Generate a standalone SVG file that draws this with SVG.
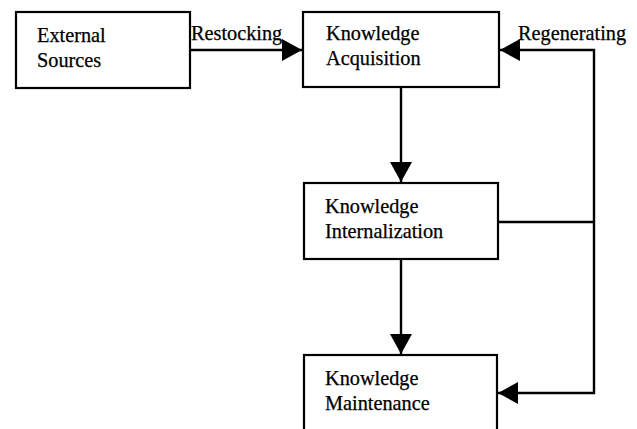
<svg xmlns="http://www.w3.org/2000/svg" width="637" height="429" viewBox="0 0 637 429">
<style>
.box{fill:#fff;stroke:#000;stroke-width:2.2}
.t{font-family:"Liberation Serif","Times New Roman",serif;font-size:20.3px;fill:#000;stroke:#000;stroke-width:0.25}
.c{fill:none;stroke:#000;stroke-width:2.4}
</style>
<defs>
<marker id="ah" markerUnits="userSpaceOnUse" markerWidth="20" markerHeight="22" viewBox="0 0 20 22" refX="20" refY="11" orient="auto">
<path d="M0,0 L20,11 L0,22 Z" fill="#000"/>
</marker>
</defs>
<rect width="637" height="429" fill="#fff"/>
<g id="connectors">
<line class="c" x1="190" y1="50" x2="302" y2="50" marker-end="url(#ah)"/>
<line class="c" x1="401" y1="87" x2="401" y2="182" marker-end="url(#ah)"/>
<line class="c" x1="401" y1="259" x2="401" y2="354" marker-end="url(#ah)"/>
<polyline class="c" points="498,222 594,222"/>
<polyline class="c" points="594,222 594,50 500,50" marker-end="url(#ah)"/>
<polyline class="c" points="594,222 594,393 498,393" marker-end="url(#ah)"/>
<text class="t" x="191" y="40">Restocking</text>
<text class="t" x="518" y="40">Regenerating</text>
</g>
<g id="external">
<rect class="box" x="16" y="12" width="174" height="76"/>
<text class="t" x="37" y="42">External</text>
<text class="t" x="37" y="67">Sources</text>
</g>
<g id="acquisition">
<rect class="box" x="303" y="12" width="196" height="75"/>
<text class="t" x="326" y="40">Knowledge</text>
<text class="t" x="326" y="65">Acquisition</text>
</g>
<g id="internalization">
<rect class="box" x="304" y="183" width="194" height="76"/>
<text class="t" x="325" y="213">Knowledge</text>
<text class="t" x="325" y="238">Internalization</text>
</g>
<g id="maintenance">
<rect class="box" x="304" y="355" width="193" height="90"/>
<text class="t" x="325" y="385">Knowledge</text>
<text class="t" x="325" y="410">Maintenance</text>
</g>
</svg>
